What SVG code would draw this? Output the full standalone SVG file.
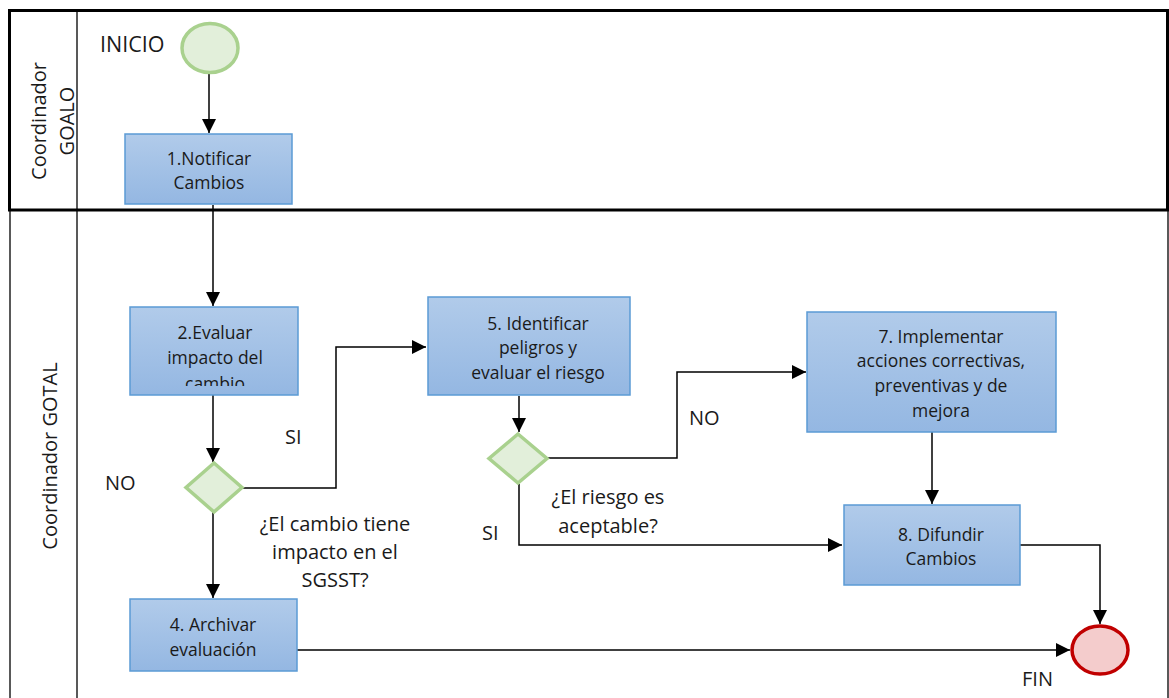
<svg xmlns="http://www.w3.org/2000/svg" width="1169" height="698" viewBox="0 0 1169 698">
<defs>
<linearGradient id="boxGrad" x1="0" y1="0" x2="0" y2="1">
<stop offset="0" stop-color="#b1cbea"/>
<stop offset="1" stop-color="#94b7e2"/>
</linearGradient>
<marker id="arrow" viewBox="0 0 10 10" refX="10" refY="5" markerWidth="14" markerHeight="14" markerUnits="userSpaceOnUse" orient="auto">
<path d="M0,0 L10,5 L0,10 z" fill="#000"/>
</marker>
<clipPath id="clip2"><rect x="130" y="307" width="168" height="79"/></clipPath>
</defs>
<style>
.box{fill:url(#boxGrad);stroke:#5b9bd5;stroke-width:1.5}
.txt{font-family:"Open Sans","Noto Sans",sans-serif;font-size:17.5px;fill:#1a1a1a;text-anchor:middle}
.lbl{font-family:"Open Sans","Noto Sans",sans-serif;font-size:20px;fill:#1a1a1a}
.lane{font-family:"Open Sans","Noto Sans",sans-serif;font-size:20px;fill:#1a1a1a;text-anchor:middle}
.conn{fill:none;stroke:#000;stroke-width:1.5}
.dia{fill:#e2efda;stroke:#a9d18e;stroke-width:3.5}
.lanegray{stroke:#595959;stroke-width:2;fill:none}
</style>
<rect width="1169" height="698" fill="#fff"/>
<g id="lanes">
<line class="lanegray" x1="10" y1="210" x2="10" y2="698"/>
<line class="lanegray" x1="77" y1="10" x2="77" y2="698"/>
<line class="lanegray" x1="1168" y1="210" x2="1168" y2="698"/>
<rect x="9.5" y="10.5" width="1158" height="199.5" fill="none" stroke="#000" stroke-width="3"/>
<text class="lane" transform="translate(46,121) rotate(-90)">Coordinador</text>
<text class="lane" transform="translate(74,121) rotate(-90)">GOALO</text>
<text class="lane" transform="translate(57,456) rotate(-90)">Coordinador GOTAL</text>
</g>
<g id="connectors">
<line class="conn" x1="209" y1="74" x2="209" y2="133" marker-end="url(#arrow)"/>
<line class="conn" x1="213" y1="205" x2="213" y2="306" marker-end="url(#arrow)"/>
<line class="conn" x1="213" y1="395" x2="213" y2="462" marker-end="url(#arrow)"/>
<polyline class="conn" points="243,488 336,488 336,347 426,347" marker-end="url(#arrow)"/>
<line class="conn" x1="213" y1="512" x2="213" y2="598" marker-end="url(#arrow)"/>
<line class="conn" x1="297" y1="650" x2="1070" y2="650" marker-end="url(#arrow)"/>
<line class="conn" x1="519" y1="396" x2="519" y2="432" marker-end="url(#arrow)"/>
<polyline class="conn" points="548,458 677,458 677,372 806,372" marker-end="url(#arrow)"/>
<polyline class="conn" points="519,484 519,545 842,545" marker-end="url(#arrow)"/>
<line class="conn" x1="932" y1="432" x2="932" y2="504" marker-end="url(#arrow)"/>
<polyline class="conn" points="1020,545 1100,545 1100,624" marker-end="url(#arrow)"/>
</g>
<g id="start">
<ellipse cx="210" cy="48" rx="28" ry="24.5" fill="#e2efda" stroke="#a9d18e" stroke-width="3.5"/>
<text class="lbl" x="100" y="52" style="font-size:21.5px">INICIO</text>
</g>
<g id="n1">
<rect class="box" x="125" y="134" width="167" height="70"/>
<text class="txt" x="209" y="165">1.Notificar</text>
<text class="txt" x="209" y="189">Cambios</text>
</g>
<g id="n2">
<rect class="box" x="130" y="307" width="168" height="88"/>
<g clip-path="url(#clip2)">
<text class="txt" x="215" y="339">2.Evaluar</text>
<text class="txt" x="215" y="364">impacto del</text>
<text class="txt" x="215" y="390">cambio</text>
</g>
</g>
<g id="d3">
<polygon class="dia" points="214,463 242,487.5 214,512 186,487.5"/>
<text class="lbl" x="285" y="444">SI</text>
<text class="lbl" x="105" y="490">NO</text>
<text class="lbl" x="335" y="531" text-anchor="middle">¿El cambio tiene</text>
<text class="lbl" x="335" y="559" text-anchor="middle">impacto en el</text>
<text class="lbl" x="335" y="587" text-anchor="middle">SGSST?</text>
</g>
<g id="n4">
<rect class="box" x="130" y="599" width="167" height="72"/>
<text class="txt" x="213" y="631">4. Archivar</text>
<text class="txt" x="213" y="656">evaluación</text>
</g>
<g id="n5">
<rect class="box" x="428" y="297" width="202" height="98"/>
<text class="txt" x="538" y="330">5. Identificar</text>
<text class="txt" x="538" y="354">peligros y</text>
<text class="txt" x="538" y="379">evaluar el riesgo</text>
</g>
<g id="d6">
<polygon class="dia" points="518,434 547,458.5 518,483 489,458.5"/>
<text class="lbl" x="689" y="425">NO</text>
<text class="lbl" x="482" y="540">SI</text>
<text class="lbl" x="608" y="504" text-anchor="middle">¿El riesgo es</text>
<text class="lbl" x="608" y="533" text-anchor="middle">aceptable?</text>
</g>
<g id="n7">
<rect class="box" x="807" y="312" width="249" height="120"/>
<text class="txt" x="941" y="343">7. Implementar</text>
<text class="txt" x="941" y="367">acciones correctivas,</text>
<text class="txt" x="941" y="392">preventivas y de</text>
<text class="txt" x="941" y="417">mejora</text>
</g>
<g id="n8">
<rect class="box" x="844" y="505" width="176" height="80"/>
<text class="txt" x="941" y="541">8. Difundir</text>
<text class="txt" x="941" y="565">Cambios</text>
</g>
<g id="end">
<ellipse cx="1100" cy="650" rx="28" ry="24" fill="#f4cccc" stroke="#c00000" stroke-width="3.5"/>
<text class="lbl" x="1022" y="686">FIN</text>
</g>
</svg>
